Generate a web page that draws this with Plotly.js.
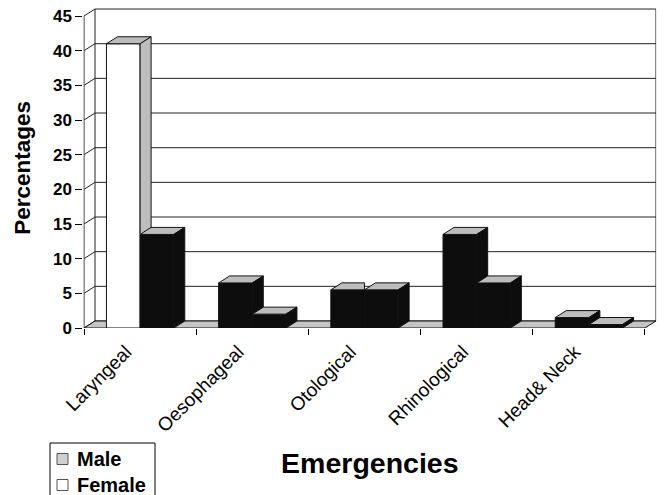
<!DOCTYPE html>
<html><head><meta charset="utf-8">
<script src="https://cdn.plot.ly/plotly-3.0.1.min.js"></script>
<style>html,body{margin:0;padding:0;background:#fff}#chart{width:665px;height:495px}</style>
</head><body><div id="chart"></div>
<script>
// ---- data ----
const categories = ['Laryngeal', 'Oesophageal', 'Otological', 'Rhinological', 'Head& Neck'];
const seriesNames = ['Male', 'Female'];
const maleValues = [41, 6.5, 5.5, 13.5, 1.5];
const femaleValues = [13.5, 2, 5.5, 6.5, 0.5];
const yTickValues = [0, 5, 10, 15, 20, 25, 30, 35, 40, 45];
const yMax = 45;

// ---- style ----
const FONT = '"Liberation Sans", Arial, sans-serif';
const W = 665, H = 495;
const DX = 0.098, DY = 1.01;      // depth offset in axis units
const BW = 0.3;                    // width of each bar (bargap 0.4)
const TOP = '#bdbdbd', DARK = '#0d0d0d', LINE = '#111';
const maleFront = maleValues.map((v, i) => i === 0 ? '#ffffff' : DARK);
const maleSide = maleValues.map((v, i) => i === 0 ? TOP : DARK);
const femaleFront = femaleValues.map(() => DARK);

function path(pts) { return 'M' + pts.map(p => p[0] + ',' + p[1]).join('L') + 'Z'; }
function poly(pts, fill, layer) {
  return { type: 'path', xref: 'x', yref: 'y', path: path(pts), fillcolor: fill,
    line: { color: LINE, width: 1 }, layer: layer || 'above' };
}
function ln(x0, y0, x1, y1, layer, w) {
  return { type: 'line', xref: 'x', yref: 'y', x0, y0, x1, y1, layer: layer || 'below',
    line: { color: '#222', width: w || 1 } };
}

const shapes = [];
const x0f = -0.5, x1f = categories.length - 0.5;
// back wall gridlines + left wall diagonals
yTickValues.forEach(v => {
  shapes.push(ln(x0f + DX, v + DY, x1f + DX, v + DY));
  shapes.push(ln(x0f, v, x0f + DX, v + DY));
});
shapes.push(ln(x0f + DX, DY, x0f + DX, yMax + DY));
shapes.push(ln(x1f + DX, DY, x1f + DX, yMax + DY));
shapes.push(ln(x0f, 0, x0f, yMax, 'above'));
// floor
shapes.push(poly([[x0f, 0], [x1f, 0], [x1f + DX, DY], [x0f + DX, DY]], '#c4c4c4', 'below'));

// 3D top / side faces derived from the values
function prism(xa, xb, v, sideColor, nb) {
  if (!(v > 0)) return;
  const clip = nb !== null && nb !== undefined;
  if (clip && nb >= v) {
    shapes.push(poly([[xa, v], [xb, v], [xb, v + DY], [xa + DX, v + DY]], TOP));
    return;
  }
  shapes.push(poly([[xa, v], [xb, v], [xb + DX, v + DY], [xa + DX, v + DY]], TOP));
  if (clip) {
    const pts = [[xb, nb]];
    if (nb < DY) pts.push([xb + DX * nb / DY, nb]);
    pts.push([xb + DX, Math.max(nb, DY)], [xb + DX, v + DY], [xb, v]);
    shapes.push(poly(pts, sideColor));
  } else {
    shapes.push(poly([[xb, 0], [xb + DX, DY], [xb + DX, v + DY], [xb, v]], sideColor));
  }
}
categories.forEach((c, i) => {
  prism(i - BW, i, maleValues[i], maleSide[i], femaleValues[i]);
  prism(i, i + BW, femaleValues[i], DARK, null);
});

// ---- legend box (paper coordinates) ----
const legendFill = ['#cfcfcf', '#ffffff'];
function px(x) { return x / W; }
function py(y) { return (H - y) / H; }
shapes.push({ type: 'rect', xref: 'paper', yref: 'paper', x0: px(50), x1: px(155), y0: py(498), y1: py(443),
  line: { color: '#000', width: 1 }, fillcolor: '#fff', layer: 'above' });
const annotations = [];
seriesNames.forEach((n, k) => {
  const cy = 459 + k * 26;
  shapes.push({ type: 'rect', xref: 'paper', yref: 'paper', x0: px(57), x1: px(68), y0: py(cy + 5.5), y1: py(cy - 5.5),
    line: { color: '#555', width: 1 }, fillcolor: legendFill[k], layer: 'above' });
  annotations.push({ xref: 'paper', yref: 'paper', x: px(75), y: py(cy), xanchor: 'left', yanchor: 'middle',
    text: n, showarrow: false, font: { family: FONT, size: 20, weight: 'bold', color: '#000' } });
});

const traces = [
  { type: 'bar', name: seriesNames[0], x: categories, y: maleValues, showlegend: false,
    marker: { color: maleFront, line: { color: LINE, width: 1 } }, hoverinfo: 'x+y' },
  { type: 'bar', name: seriesNames[1], x: categories, y: femaleValues, showlegend: false,
    marker: { color: femaleFront, line: { color: LINE, width: 1 } }, hoverinfo: 'x+y' }
];

const layout = {
  width: W, height: H,
  margin: { l: 0, r: 0, t: 0, b: 0, autoexpand: false },
  paper_bgcolor: '#fff', plot_bgcolor: 'rgba(0,0,0,0)',
  font: { family: FONT, color: '#000', size: 14 },
  barmode: 'group', bargap: 0.4, bargroupgap: 0,
  showlegend: false,
  xaxis: {
    type: 'category', categoryorder: 'array', categoryarray: categories,
    domain: [83.44 / W, 656.2 / W], range: [-0.505, 4.6],
    tickson: 'boundaries', ticks: 'outside', ticklen: 6, tickcolor: '#000',
    tickangle: -45, tickfont: { family: FONT, size: 19, color: '#000' },
    ticklabelshift: -14, ticklabelstandoff: 8,
    showgrid: false, showline: false, zeroline: false, fixedrange: true,
    title: { text: 'Emergencies', standoff: 18, font: { family: FONT, size: 28.5, weight: 'bold', color: '#000' } }
  },
  yaxis: {
    domain: [(H - 328) / H, (H - 7.7) / H], range: [0, 46.2],
    tickvals: yTickValues, ticks: 'outside', ticklen: 7, tickcolor: '#000',
    tickfont: { family: FONT, size: 17, weight: 'bold', color: '#000' },
    showgrid: false, showline: false, zeroline: false, fixedrange: true,
    title: { text: 'Percentages', standoff: 16, font: { family: FONT, size: 22.5, weight: 'bold', color: '#000' } }
  },
  shapes: shapes,
  annotations: annotations
};

Plotly.newPlot('chart', traces, layout, { displayModeBar: false, staticPlot: true });
</script>
</body></html>
